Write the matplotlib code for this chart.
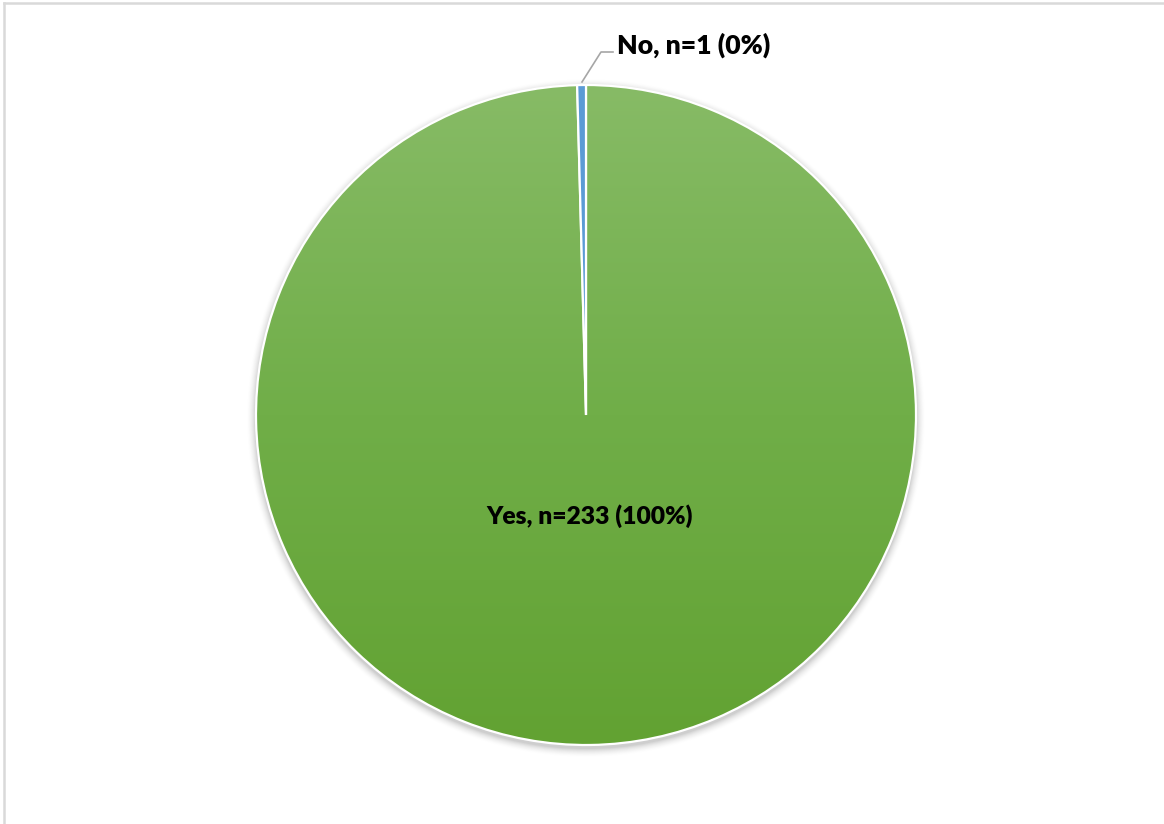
import numpy as np
import matplotlib
matplotlib.use("Agg")
import matplotlib.pyplot as plt
from matplotlib.patches import Circle
from matplotlib.lines import Line2D
from matplotlib.colors import LinearSegmentedColormap

# Survey responses
categories = ["Yes", "No"]
counts = [233, 1]

W, H = 1164, 824
fig = plt.figure(figsize=(W / 100, H / 100), dpi=100)
ax = fig.add_axes([0, 0, 1, 1])

cx, cy, r = 586, 409, 330
total = sum(counts)
pcts = [round(100 * c / total) for c in counts]

# soft drop shadow behind the pie
for k in range(10):
    ax.add_patch(Circle((cx, cy - 3), r + 1 + k * 0.9, color="black",
                        alpha=0.035 * (1 - k / 10), lw=0, zorder=0))

wedges, _ = ax.pie(counts, colors=["#70AD47", "#5B9BD5"], startangle=90,
                   counterclock=False, center=(cx, cy), radius=r, frame=True,
                   wedgeprops=dict(edgecolor="white", linewidth=1.6))
ax.set_xlim(0, W)
ax.set_ylim(0, H)
ax.axis("off")

# vertical gradient fill for the green slice
grad = LinearSegmentedColormap.from_list("g", ["#62A232", "#70AE48", "#87BB66"])
img = ax.imshow(np.linspace(0, 1, 256).reshape(-1, 1), cmap=grad,
                extent=(cx - r, cx + r, cy - r, cy + r), origin="lower",
                aspect="auto", zorder=wedges[0].get_zorder() + 0.1)
img.set_clip_path(wedges[0])
wedges[0].set_facecolor("none")
wedges[0].set_zorder(wedges[0].get_zorder() + 0.2)
wedges[1].set_zorder(wedges[0].get_zorder() + 0.1)

font = dict(family=["Lato", "DejaVu Sans"], weight="heavy", color="black")

ax.text(590, H - 516, f"{categories[0]}, n={counts[0]} ({pcts[0]}%)",
        fontsize=17.7, ha="center", va="center", zorder=10, **font)

# leader line and label for the small slice
ax.add_line(Line2D([582, 601, 613], [H - 82, H - 52, H - 52],
                   color="#A6A6A6", lw=1.2, zorder=10))
ax.text(617, H - 45, f"{categories[1]}, n={counts[1]} ({pcts[1]}%)",
        fontsize=19.2, ha="left", va="center", zorder=10, **font)

# chart area border
fig.add_artist(Line2D([4 / W, 4 / W], [0, 1 - 3 / H], transform=fig.transFigure,
                      color="#D9D9D9", lw=1.8))
fig.add_artist(Line2D([4 / W, 1], [1 - 3 / H, 1 - 3 / H], transform=fig.transFigure,
                      color="#D9D9D9", lw=1.8))

fig.savefig("out.png", dpi=100)
